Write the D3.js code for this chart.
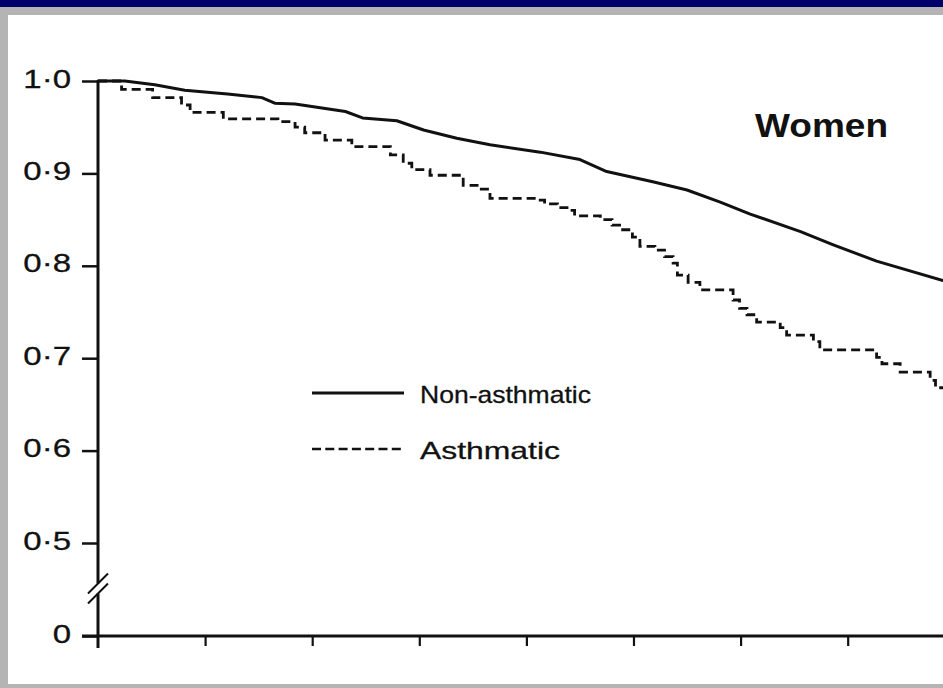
<!DOCTYPE html>
<html>
<head>
<meta charset="utf-8">
<script src="https://cdn.jsdelivr.net/npm/d3@7"></script>
<style>
  html, body { margin: 0; padding: 0; background: #b4b4b4; }
  svg { display: block; }
</style>
</head>
<body>
<svg id="chart" width="943" height="688"></svg>
<script>
// Proportion surviving over years of follow-up, women, by asthma status
const yearTicks = [1, 2, 3, 4, 5, 6, 7];
const survivalTicks = [0, 0.5, 0.6, 0.7, 0.8, 0.9, 1.0];
const seriesNames = ["Non-asthmatic", "Asthmatic"];
const panelTitle = "Women";

const nonAsthmaticYears = [0, 0.25, 0.53, 0.81, 1.21, 1.53, 1.65, 1.84, 2.31, 2.47, 2.79, 3.04,
  3.35, 3.66, 4.13, 4.50, 4.75, 5.18, 5.50, 5.81, 6.09, 6.56, 6.86, 7.27, 7.89];
const nonAsthmaticSurvival = [1.0, 1.0, 0.996, 0.990, 0.986, 0.982, 0.976, 0.975, 0.967, 0.960, 0.957, 0.947,
  0.938, 0.931, 0.923, 0.915, 0.902, 0.891, 0.882, 0.869, 0.856, 0.837, 0.823, 0.805, 0.784];

const asthmaticYears = [0, 0.22, 0.51, 0.78, 0.86, 1.17, 1.68, 1.84, 1.93, 2.12, 2.37, 2.73,
  2.85, 2.93, 3.10, 3.41, 3.54, 3.66, 4.10, 4.17, 4.29, 4.41, 4.45, 4.69,
  4.80, 4.87, 4.99, 5.06, 5.20, 5.29, 5.37, 5.41, 5.51, 5.62, 5.93, 5.99,
  6.06, 6.15, 6.37, 6.43, 6.68, 6.74, 7.27, 7.32, 7.49, 7.77, 7.82, 7.89];
const asthmaticSurvival = [1.0, 0.991, 0.982, 0.974, 0.966, 0.959, 0.956, 0.950, 0.944, 0.936, 0.929, 0.920,
  0.911, 0.904, 0.898, 0.887, 0.883, 0.873, 0.871, 0.867, 0.863, 0.860, 0.854, 0.850,
  0.844, 0.839, 0.831, 0.821, 0.817, 0.810, 0.803, 0.790, 0.782, 0.774, 0.763, 0.754,
  0.747, 0.739, 0.733, 0.725, 0.718, 0.709, 0.701, 0.694, 0.685, 0.676, 0.668, 0.668];

const svg = d3.select("#chart");
const W = 943, H = 688;

// slide frame: navy strip, grey border, white panel
svg.append("rect").attr("x", 0).attr("y", 0).attr("width", W).attr("height", H).attr("fill", "#b4b4b4");
svg.append("rect").attr("x", 0).attr("y", 0).attr("width", W).attr("height", 7).attr("fill", "#00006a");
svg.append("rect").attr("x", 8).attr("y", 15).attr("width", W - 8).attr("height", 669).attr("fill", "#ffffff");

const FONT = "'Liberation Sans', Arial, Helvetica, sans-serif";
const INK = "#111";

// scales: broken y axis (0 sits just below 0.5)
const x = d3.scaleLinear().domain([0, 7.89]).range([98, 943]);
const y = d3.scaleLinear().domain([0, 0.5, 1.0]).range([636, 543, 81]);

const fmt = v => v === 0 ? "0" : d3.format(".1f")(v).replace(".", "\u00B7");

// y axis ticks and labels
const yAxis = d3.axisLeft(y).tickValues(survivalTicks).tickSize(16).tickPadding(11).tickFormat(fmt);
const gy = svg.append("g").attr("transform", `translate(${x(0)},0)`).call(yAxis);
gy.select(".domain").remove();
gy.selectAll(".tick line").attr("stroke", INK).attr("stroke-width", 2.5);
gy.selectAll(".tick text")
  .attr("fill", INK)
  .attr("stroke", INK).attr("stroke-width", 0.3)
  .attr("font-family", FONT)
  .attr("font-size", 26)
  .attr("dy", 6)
  .each(function () {
    const w = this.getComputedTextLength();
    d3.select(this).attr("textLength", w * 1.27).attr("lengthAdjust", "spacingAndGlyphs");
  });

// x axis ticks (no labels)
const xAxis = d3.axisBottom(x).tickValues(yearTicks).tickSize(10).tickFormat("");
const gx = svg.append("g").attr("transform", `translate(0,${y(0)})`).call(xAxis);
gx.select(".domain").remove();
gx.selectAll(".tick line").attr("stroke", INK).attr("stroke-width", 2.2);

// axis lines with the break marks
const ax = x(0);
const breakY = (y(0) + y(0.5)) / 2 - 1;
const gap = 5;
svg.append("line").attr("x1", ax).attr("x2", ax).attr("y1", y(1.0)).attr("y2", breakY - gap)
  .attr("stroke", INK).attr("stroke-width", 3);
svg.append("line").attr("x1", ax).attr("x2", ax).attr("y1", breakY + gap).attr("y2", y(0) + 12)
  .attr("stroke", INK).attr("stroke-width", 3);
[-gap, gap].forEach(o => {
  svg.append("line")
    .attr("x1", ax - 10).attr("y1", breakY + o + 10)
    .attr("x2", ax + 10).attr("y2", breakY + o - 10)
    .attr("stroke", INK).attr("stroke-width", 2);
});
svg.append("line").attr("x1", ax - 16).attr("x2", W).attr("y1", y(0)).attr("y2", y(0))
  .attr("stroke", INK).attr("stroke-width", 3);

// survival curves
const nonData = nonAsthmaticYears.map((t, i) => [t, nonAsthmaticSurvival[i]]);
const asData = asthmaticYears.map((t, i) => [t, asthmaticSurvival[i]]);

const smooth = d3.line().x(d => x(d[0])).y(d => y(d[1])).curve(d3.curveLinear);
const steps = d3.line().x(d => x(d[0])).y(d => y(d[1])).curve(d3.curveStepAfter);

svg.append("path").datum(nonData).attr("d", smooth)
  .attr("fill", "none").attr("stroke", INK).attr("stroke-width", 3)
  .attr("stroke-linejoin", "round").attr("stroke-linecap", "round");
svg.append("path").datum(asData).attr("d", steps)
  .attr("fill", "none").attr("stroke", INK).attr("stroke-width", 2.8)
  .attr("stroke-dasharray", "9,5");

// legend
const legend = svg.append("g");
const rows = legend.selectAll("g").data(seriesNames).join("g")
  .attr("transform", (d, i) => `translate(0,${393 + i * 56})`);
rows.append("line")
  .attr("x1", 312).attr("x2", 404).attr("y1", 0).attr("y2", 0)
  .attr("stroke", INK).attr("stroke-width", (d, i) => i === 0 ? 3 : 2.5)
  .attr("stroke-dasharray", (d, i) => i === 0 ? null : "9,4.3");
rows.append("text")
  .attr("x", 420).attr("y", 10)
  .attr("font-family", FONT).attr("font-size", 24).attr("fill", INK)
  .attr("stroke", INK).attr("stroke-width", 0.3)
  .attr("textLength", (d, i) => i === 0 ? 171 : 140)
  .attr("lengthAdjust", "spacingAndGlyphs")
  .text(d => d);

// panel title
svg.append("text")
  .attr("x", 755).attr("y", 137)
  .attr("font-family", FONT).attr("font-weight", "bold").attr("font-size", 34).attr("fill", INK)
  .attr("textLength", 133).attr("lengthAdjust", "spacingAndGlyphs")
  .text(panelTitle);
</script>
</body>
</html>
